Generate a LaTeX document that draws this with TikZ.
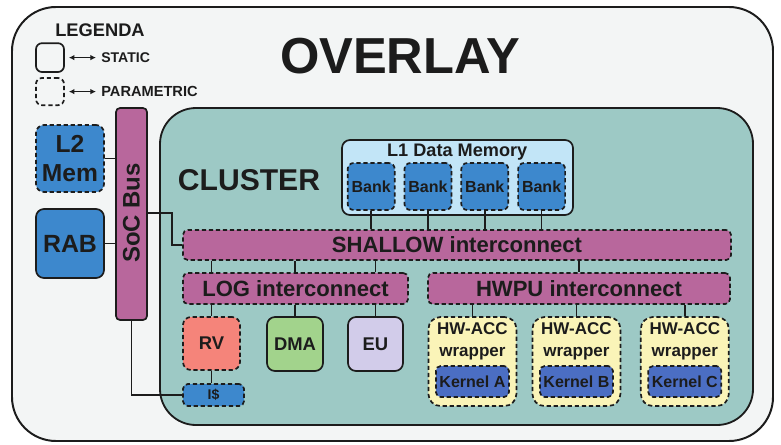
\documentclass[tikz,border=0pt]{standalone}
\usepackage{fontspec}
\setmainfont{Liberation Sans}
\usetikzlibrary{positioning,arrows.meta,calc}
\definecolor{outerbg}{HTML}{F3F5F5}
\definecolor{clusterbg}{HTML}{9DC9C5}
\definecolor{memblue}{HTML}{3D88CD}
\definecolor{l1blue}{HTML}{C2E5F7}
\definecolor{busmauve}{HTML}{B8679C}
\definecolor{rvred}{HTML}{F5847A}
\definecolor{dmagreen}{HTML}{A2D38C}
\definecolor{eulilac}{HTML}{D2CCEA}
\definecolor{wrapyellow}{HTML}{FAF4B8}
\definecolor{kernblue}{HTML}{4B6EC3}
\definecolor{ink}{HTML}{1C1C1C}
\newcommand{\fsz}[2]{\fontsize{#1}{#2}\selectfont}

\tikzset{
  blk/.style={draw=ink, line width=1.2pt, rounded corners=0.2cm, inner sep=0pt, align=center, text=ink, font=\bfseries},
  param/.style={blk, dash pattern=on 3pt off 2pt},
  txt/.style={inner sep=0pt, text=ink, align=center, font=\bfseries},
  wire/.style={draw=ink, line width=1.2pt},
  legarrow/.style={{Latex[length=4pt,width=4pt]}-{Latex[length=4pt,width=4pt]}, draw=ink, line width=1pt, shorten <=0.1cm, shorten >=0.125cm},
}

\begin{document}
\begin{tikzpicture}[x=1cm,y=1cm]
\useasboundingbox (0,0) rectangle (19.525,11.1);
% overlay and cluster frames
\draw[rounded corners=1.1cm, fill=outerbg, draw=ink, line width=1.4pt] (0.3,0.075) rectangle (19.325,10.925);
\draw[rounded corners=0.9cm, fill=clusterbg, draw=ink, line width=1.3pt] (4.0,0.475) rectangle (18.825,8.4);
\node[txt, font=\bfseries\fsz{36}{40}] (title) at (10.0,9.7) {OVERLAY};
\node[txt, font=\bfseries\fsz{21.4}{24}] (clustertxt) at (6.225,6.6) {CLUSTER};

% legend
\node[txt, font=\bfseries\fsz{13}{15}] (lgtitle) at (2.5,10.35) {LEGENDA};
\node[blk, rounded corners=0.15cm, minimum width=0.7cm, minimum height=0.72cm] (lgstatic) at (1.25,9.66) {};
\node[param, rounded corners=0.15cm, minimum width=0.7cm, minimum height=0.68cm] (lgparam) at (1.25,8.81) {};
\node[txt, anchor=west, font=\bfseries\fsz{10}{12}] (lgstatictxt) at (2.525,9.66) {STATIC};
\node[txt, anchor=west, font=\bfseries\fsz{10.4}{12}] (lgparamtxt) at (2.525,8.81) {PARAMETRIC};
\draw[legarrow] (lgstatic.east) -- (lgstatictxt.west);
\draw[legarrow] (lgparam.east) -- (lgparamtxt.west);

% off-cluster blocks
\node[param, fill=memblue, minimum width=1.7cm, minimum height=1.675cm, font=\bfseries\fsz{17.5}{20}] (l2) at (1.75,7.1375) {L2\\Mem};
\node[blk, fill=memblue, minimum width=1.7cm, minimum height=1.725cm, font=\bfseries\fsz{17.7}{20}] (rab) at (1.75,5.0125) {RAB};
\node[blk, fill=busmauve, rounded corners=0.1cm, minimum width=0.775cm, minimum height=5.3cm] (bus) at (3.2875,5.75) {};
\node[txt, rotate=90, font=\bfseries\fsz{17}{20}] (bustxt) at (3.2875,5.775) {SoC Bus};

% L1 memory
\node[blk, fill=l1blue, minimum width=5.775cm, minimum height=1.875cm] (l1) at (11.4375,6.6625) {};
\node[txt, font=\bfseries\fsz{12.9}{15}] (l1txt) at (11.43,7.3) {L1 Data Memory};
\foreach \i/\x in {1/9.28,2/10.70,3/12.12,4/13.54}
  \node[param, fill=memblue, rounded corners=0.15cm, minimum width=1.175cm, minimum height=1.175cm, font=\bfseries\fsz{11.4}{13}] (bank\i) at (\x,6.4375) {Bank};

% interconnects
\node[param, fill=busmauve, rounded corners=0.12cm, minimum width=13.7cm, minimum height=0.75cm, font=\bfseries\fsz{15.7}{18}] (shallow) at (11.425,4.975) {SHALLOW interconnect};
\node[param, fill=busmauve, rounded corners=0.12cm, minimum width=5.625cm, minimum height=0.775cm, font=\bfseries\fsz{15.7}{18}] (log) at (7.3875,3.8875) {LOG interconnect};
\node[param, fill=busmauve, rounded corners=0.12cm, minimum width=7.55cm, minimum height=0.775cm, font=\bfseries\fsz{15.7}{18}] (hwpu) at (14.475,3.8875) {HWPU interconnect};

% cores and units
\node[param, fill=rvred, minimum width=1.425cm, minimum height=1.325cm, font=\bfseries\fsz{13.1}{15}] (rv) at (5.2875,2.5125) {RV};
\node[blk, fill=dmagreen, minimum width=1.4cm, minimum height=1.35cm, font=\bfseries\fsz{13.1}{15}] (dma) at (7.375,2.5) {DMA};
\node[blk, fill=eulilac, minimum width=1.375cm, minimum height=1.35cm, font=\bfseries\fsz{13.1}{15}] (eu) at (9.3875,2.5) {EU};
\node[param, fill=memblue, rounded corners=0.12cm, minimum width=1.525cm, minimum height=0.55cm, font=\bfseries\fsz{10}{12}] (icache) at (5.3375,1.225) {I\$};

% accelerators
\foreach \k/\x in {A/11.81,B/14.41,C/17.12} {
  \node[param, fill=wrapyellow, rounded corners=0.3cm, minimum width=2.2cm, minimum height=2.225cm] (wr\k) at (\x,2.0625) {};
  \node[txt, font=\bfseries\fsz{12.1}{15.6}] (wrtxt\k) at (\x,2.575) {HW-ACC\\wrapper};
  \node[param, fill=kernblue, rounded corners=0.12cm, minimum width=1.825cm, minimum height=0.775cm, font=\bfseries\fsz{11.4}{13}] (kern\k) at (\x,1.5625) {Kernel \k};
}

% connections
\draw[wire] (l2.east) -- (l2.east -| bus.west);
\draw[wire] (rab.east) -- (rab.east -| bus.west);
\coordinate (busout) at (bus.east |- 0,5.775);
\coordinate (busbend) at (4.3,5.775);
\draw[wire] (busout) -- (busbend) |- (shallow.west);
\draw[wire] (bus.south) |- (icache.west);
\foreach \i in {1,2,3,4}
  \draw[wire] (bank\i.south) -- (bank\i.south |- shallow.north);
\foreach \u in {rv,dma,eu} {
  \draw[wire] (\u.north |- shallow.south) -- (\u.north |- log.north);
  \draw[wire] (\u.north |- log.south) -- (\u.north);
}
\draw[wire] (hwpu.north |- shallow.south) -- (hwpu.north);
\foreach \k in {A,B,C}
  \draw[wire] (wr\k.north |- hwpu.south) -- (wr\k.north);
\draw[wire] (rv.south) -- (rv.south |- icache.north);
\end{tikzpicture}
\end{document}
